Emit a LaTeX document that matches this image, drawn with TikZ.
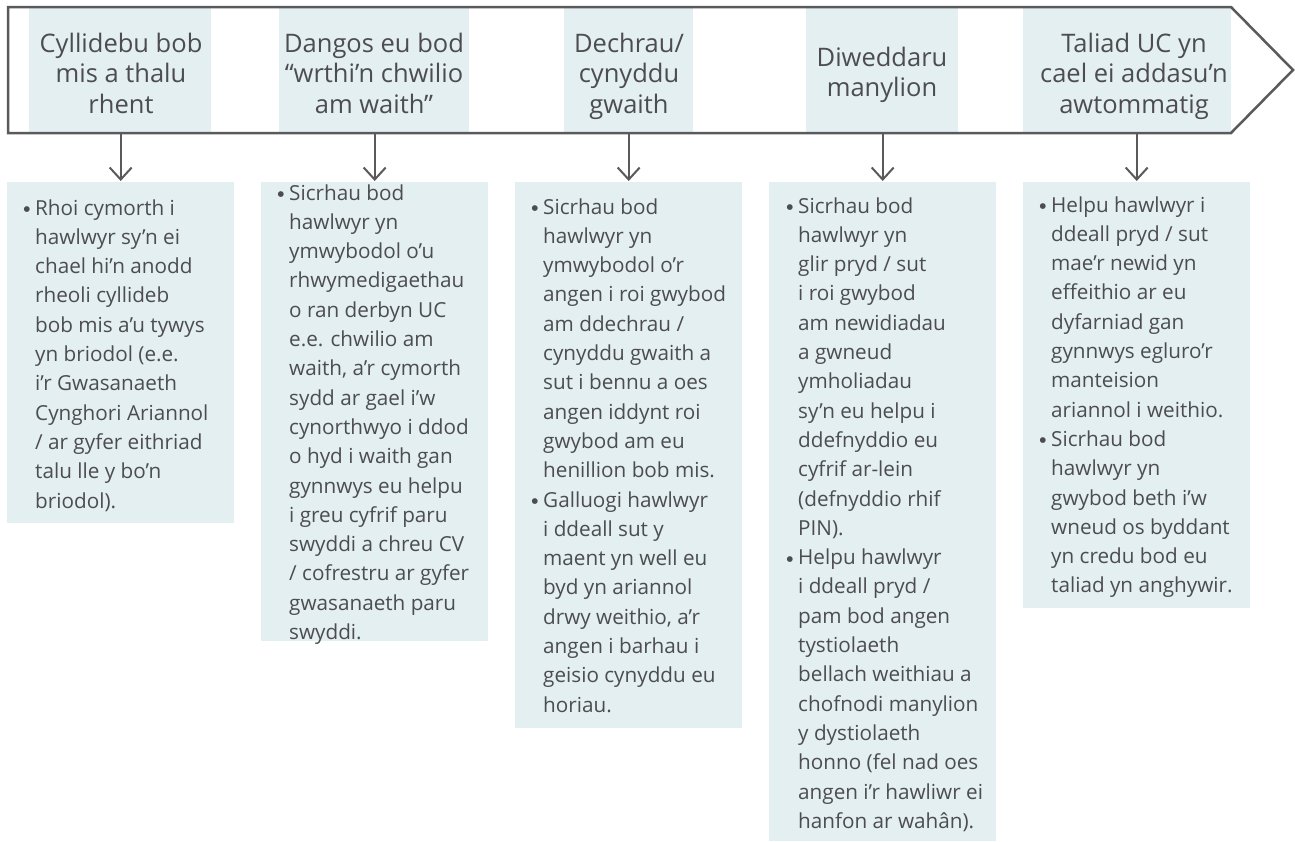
\documentclass[tikz,border=0pt]{standalone}
\usepackage{fontspec}
\setmainfont{Open Sans}
\newfontfamily\dotfont{DejaVu Sans}
\usetikzlibrary{arrows.meta}
\definecolor{shade}{RGB}{227,239,241}
\definecolor{ink}{RGB}{77,77,79}
\definecolor{rulegrey}{RGB}{90,90,92}
\tikzset{
  headshade/.style={fill=shade, draw=none, minimum height=126pt, inner sep=0pt, anchor=north west},
  headtext/.style={anchor=base, inner sep=0pt, text=ink, font=\fontsize{25.5}{30.5}\selectfont},
  bodybox/.style={fill=shade, draw=none, inner sep=0pt, anchor=north west, minimum width=227pt},
  bodytext/.style={anchor=base west, inner sep=0pt, text=ink, font=\fontsize{20.7}{29.3}\selectfont},
  conn/.style={draw=rulegrey, line width=2pt, -{Straight Barb[length=12pt,width=22pt]}, shorten >=1pt},
  outlinepath/.style={draw=rulegrey, line width=2.5pt, line join=miter},
}
\newcommand{\bul}{\leavevmode\llap{\raisebox{3.5pt}{\dotfont\fontsize{7.5}{7.5}\selectfont ●}\hspace{5pt}}}
\newcommand{\hdtext}[1]{\parbox[t]{240pt}{\centering #1}}
\newcommand{\bdtext}[1]{\parbox[t]{220pt}{\raggedright #1}}
\begin{document}
\begin{tikzpicture}[x=1pt,y=-1pt]
\useasboundingbox (0,0) rectangle (1295,841);
% header shades
\node[headshade, minimum width=182pt] (h1) at (29,7) {};
\node[headshade, minimum width=190pt] (h2) at (279,7) {};
\node[headshade, minimum width=129pt] (h3) at (564,7) {};
\node[headshade, minimum width=152pt] (h4) at (806,7) {};
\node[headshade, minimum width=208pt] (h5) at (1023,7) {};
% outline arrow
\draw[outlinepath] (8,7) -- (1231,7) -- (1293,70) -- (1231,133) -- (8,133) -- cycle;
% header texts
\node[headtext] (ht1) at (121,52) {\hdtext{Cyllidebu bob\\mis a thalu\\rhent}};
\node[headtext] (ht2) at (374,52) {\hdtext{Dangos eu bod\\“wrthi’n chwilio\\am waith”}};
\node[headtext] (ht3) at (629,52) {\hdtext{Dechrau/\\cynyddu\\gwaith}};
\node[headtext] (ht4) at (882,66) {\hdtext{Diweddaru\\manylion}};
\node[headtext] (ht5) at (1134,52) {\hdtext{Taliad UC yn\\cael ei addasu’n\\awtommatig}};
% body boxes
\node[bodybox, minimum height=341pt] (b1) at (7,182) {};
\node[bodybox, minimum height=459pt] (b2) at (261,182) {};
\node[bodybox, minimum height=546pt] (b3) at (515,182) {};
\node[bodybox, minimum height=659pt] (b4) at (769,182) {};
\node[bodybox, minimum height=426pt] (b5) at (1023,182) {};
% body texts
\node[bodytext] (t1) at (35,215) {\bdtext{\bul Rhoi cymorth i\\hawlwyr sy’n ei\\chael hi’n anodd\\rheoli cyllideb\\bob mis a’u tywys\\yn briodol (e.e.\\i’r Gwasanaeth\\Cynghori Ariannol\\/ ar gyfer eithriad\\talu lle y bo’n\\briodol).}};
\node[bodytext] (t2) at (289,200) {\bdtext{\bul Sicrhau bod\\hawlwyr yn\\ymwybodol o’u\\rhwymedigaethau\\o ran derbyn UC\\e.e. chwilio am\\waith, a’r cymorth\\sydd ar gael i’w\\cynorthwyo i ddod\\o hyd i waith gan\\gynnwys eu helpu\\i greu cyfrif paru\\swyddi a chreu CV\\/ cofrestru ar gyfer\\gwasanaeth paru\\swyddi.}};
\node[bodytext] (t3) at (543,214) {\bdtext{\bul Sicrhau bod\\hawlwyr yn\\ymwybodol o’r\\angen i roi gwybod\\am ddechrau /\\cynyddu gwaith a\\sut i bennu a oes\\angen iddynt roi\\gwybod am eu\\henillion bob mis.\\\bul Galluogi hawlwyr\\i ddeall sut y\\maent yn well eu\\byd yn ariannol\\drwy weithio, a’r\\angen i barhau i\\geisio cynyddu eu\\horiau.}};
\node[bodytext] (t4) at (798,213) {\bdtext{\bul Sicrhau bod\\hawlwyr yn\\glir pryd / sut\\i roi gwybod\\am newidiadau\\a gwneud\\ymholiadau\\sy’n eu helpu i\\ddefnyddio eu\\cyfrif ar-lein\\(defnyddio rhif\\PIN).\\\bul Helpu hawlwyr\\i ddeall pryd /\\pam bod angen\\tystiolaeth\\bellach weithiau a\\chofnodi manylion\\y dystiolaeth\\honno (fel nad oes\\angen i’r hawliwr ei\\hanfon ar wahân).}};
\node[bodytext] (t5) at (1051,212) {\bdtext{\bul Helpu hawlwyr i\\ddeall pryd / sut\\mae’r newid yn\\effeithio ar eu\\dyfarniad gan\\gynnwys egluro’r\\manteision\\ariannol i weithio.\\\bul Sicrhau bod\\hawlwyr yn\\gwybod beth i’w\\wneud os byddant\\yn credu bod eu\\taliad yn anghywir.}};
% connectors
\draw[conn] (h1.south -| b1.north) -- (b1.north);
\draw[conn] (h2.south -| b2.north) -- (b2.north);
\draw[conn] (h3.south -| b3.north) -- (b3.north);
\draw[conn] (h4.south -| b4.north) -- (b4.north);
\draw[conn] (h5.south -| b5.north) -- (b5.north);
\end{tikzpicture}
\end{document}
